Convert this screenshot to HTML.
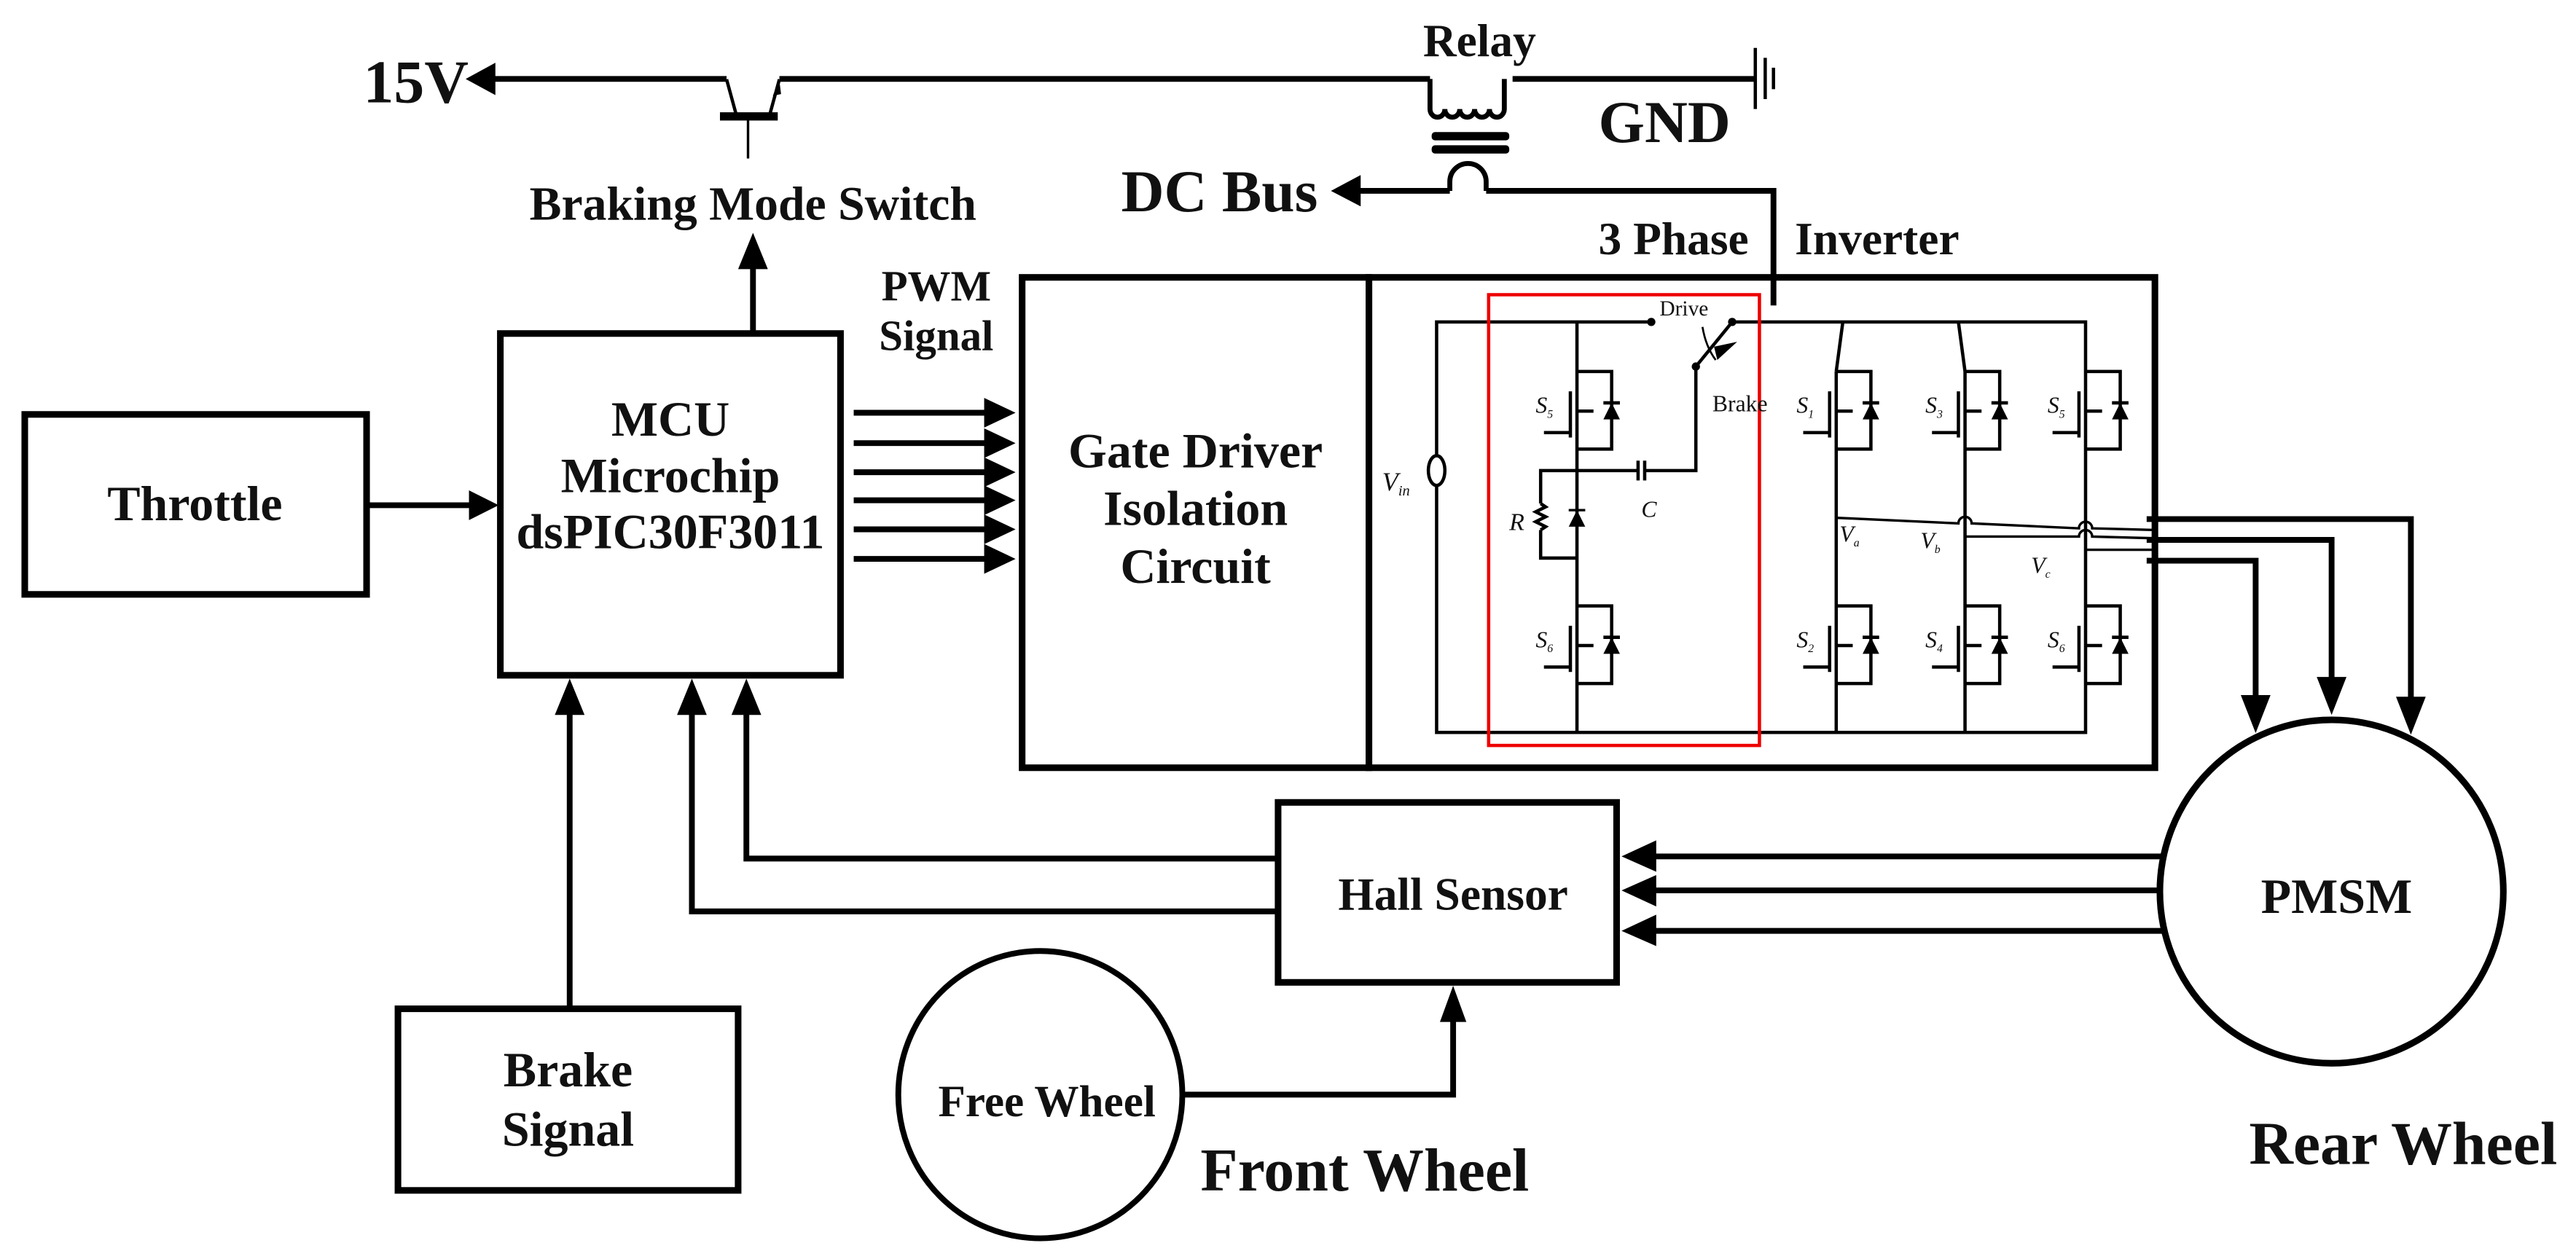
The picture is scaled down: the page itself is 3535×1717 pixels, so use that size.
<!DOCTYPE html>
<html><head><meta charset="utf-8"><style>
html,body{margin:0;padding:0;background:#fff;}
svg{display:block;}
text{font-family:"Liberation Serif",serif;font-weight:bold;fill:#111;}
.it{font-style:italic;font-weight:normal;}
.n{font-weight:normal;}
</style></head><body>
<svg width="3535" height="1717" viewBox="0 0 1560 757.7" xmlns="http://www.w3.org/2000/svg">
<g fill="none" stroke="#000" stroke-width="4">
<rect x="15" y="251" width="207" height="109"/>
<rect x="303" y="202" width="206" height="207"/>
<rect x="619" y="168" width="210" height="297"/>
<rect x="829" y="168" width="476" height="297"/>
<rect x="774" y="486" width="205" height="109"/>
<rect x="241" y="611" width="206" height="110"/>
<circle cx="1412" cy="540" r="104"/>
<ellipse cx="630" cy="663" rx="86" ry="87" stroke-width="3.5"/>
</g>
<g fill="none" stroke="#000" stroke-width="3.5">
<line x1="222" y1="306" x2="290" y2="306"/>
<line x1="517" y1="250" x2="600" y2="250"/>
<line x1="517" y1="268.4" x2="600" y2="268.4"/>
<line x1="517" y1="286" x2="600" y2="286"/>
<line x1="517" y1="303" x2="600" y2="303"/>
<line x1="517" y1="320.6" x2="600" y2="320.6"/>
<line x1="517" y1="338.5" x2="600" y2="338.5"/>
<line x1="456" y1="202" x2="456" y2="160"/>
<polyline points="774,520 452,520 452,425"/>
<polyline points="774,552 419,552 419,425"/>
<line x1="345" y1="611" x2="345" y2="425"/>
<line x1="1310" y1="518.7" x2="1000" y2="518.7"/>
<line x1="1308" y1="539.3" x2="1000" y2="539.3"/>
<line x1="1310" y1="563.8" x2="1000" y2="563.8"/>
<polyline points="716,663 880,663 880,612"/>
<polyline points="1300,314.4 1460,314.4 1460,425"/>
<polyline points="1300,327 1412,327 1412,412"/>
<polyline points="1300,339.6 1366,339.6 1366,424"/>
<line x1="298" y1="47.8" x2="440" y2="47.8"/>
<line x1="472" y1="47.8" x2="866" y2="47.8"/>
<line x1="916" y1="47.8" x2="1062" y2="47.8"/>
<line x1="820" y1="115.6" x2="878" y2="115.6"/>
<polyline points="900,115.6 1074,115.6 1074,185"/>
</g>
<g fill="#000">
<polygon points="302,306 284,297 284,315"/>
<polygon points="615,250 596,241 596,259"/>
<polygon points="615,268.4 596,259.4 596,277.4"/>
<polygon points="615,286 596,277 596,295"/>
<polygon points="615,303 596,294 596,312"/>
<polygon points="615,320.6 596,311.6 596,329.6"/>
<polygon points="615,338.5 596,329.5 596,347.5"/>
<polygon points="456,141 447,163 465,163"/>
<polygon points="345,411 336,433 354,433"/>
<polygon points="419,411 410,433 428,433"/>
<polygon points="452,411 443,433 461,433"/>
<polygon points="982,518.7 1003,509 1003,528"/>
<polygon points="982,539.3 1003,530 1003,549"/>
<polygon points="982,563.8 1003,554 1003,573"/>
<polygon points="880,597 872,619 888,619"/>
<polygon points="1366,444 1357,421 1375,421"/>
<polygon points="1412,433 1403,410 1421,410"/>
<polygon points="1460,445 1451,422 1469,422"/>
<polygon points="282,47.8 300,38 300,57.6"/>
<polygon points="806,115.6 824,106 824,125"/>
</g>
<g stroke="#000" fill="none" stroke-width="2">
<line x1="440" y1="48" x2="446" y2="70"/>
<line x1="472" y1="48" x2="466" y2="70"/>
<line x1="453" y1="72" x2="453" y2="96" stroke-width="1.5"/>
</g>
<rect x="436" y="68" width="35" height="5" fill="#000"/>
<polygon points="472,49 468,58 473,57" fill="#000"/>
<g stroke="#000" fill="none" stroke-width="3">
<path d="M866,47.8 V66 a4.5,5 0 0 0 9,0 a4.5,5 0 0 0 9,0 a4.5,5 0 0 0 9,0 a4.5,5 0 0 0 9,0 a4.5,5 0 0 0 9,0 V47.8"/>
<path d="M878,115.6 V110 a11,11 0 0 1 22,0 V115.6"/>
</g>
<rect x="867" y="80" width="47" height="5" rx="2" fill="#000"/>
<rect x="867" y="88" width="47" height="5" rx="2" fill="#000"/>
<g stroke="#000" stroke-width="2">
<line x1="1063" y1="29" x2="1063" y2="66"/>
<line x1="1069" y1="35" x2="1069" y2="60"/>
<line x1="1074" y1="41" x2="1074" y2="54"/>
</g>
<g stroke="#000" fill="none" stroke-width="2">
<polyline points="1000,195 870,195 870,443.6 1263,443.6 1263,195 1049,195"/>
<line x1="955" y1="195" x2="955" y2="443.6"/>
<line x1="1116" y1="195" x2="1112" y2="225"/>
<line x1="1112" y1="225" x2="1112" y2="443.6"/>
<line x1="1186" y1="195" x2="1190" y2="225"/>
<line x1="1190" y1="225" x2="1190" y2="443.6"/>
<polyline points="955,285 933,285 933,305"/>
<path d="M933,305 l3,2 l-6,3 l6,3 l-6,3 l6,3 l-3,2"/>
<polyline points="933,321 933,338 955,338"/>
<polyline points="955,285 992,285"/>
<line x1="992" y1="279" x2="992" y2="291"/>
<line x1="996" y1="279" x2="996" y2="291"/>
<polyline points="996,285 1027,285 1027,222"/>
<line x1="1027" y1="222" x2="1049" y2="195"/>
<path d="M1031,198 q2,12 8,20" stroke-width="1.2"/>
<ellipse cx="870" cy="285" rx="5" ry="9" fill="#fff"/>
<path d="M1112,313.6 L1186,317 a4,4 0 0 1 8,0 L1259,320 a4,4 0 0 1 8,0 L1305,321" stroke-width="1.5"/>
<path d="M1190,325 L1259,325 a4,4 0 0 1 8,0 L1305,326" stroke-width="1.5"/>
<line x1="1263" y1="333" x2="1305" y2="333" stroke-width="1.5"/>
</g>
<polygon points="1040,218 1052,207 1038,210" fill="#000"/>
<circle cx="1000" cy="195" r="2.5" fill="#000"/>
<circle cx="1049" cy="195" r="2.5" fill="#000"/>
<circle cx="1027" cy="222" r="2.5" fill="#000"/>
<polygon points="955,309 950,319 960,319" fill="#000"/>
<line x1="950" y1="309" x2="960" y2="309" stroke="#000" stroke-width="1.5"/>
<g stroke="#000" fill="none" stroke-width="2">
<g transform="translate(955,225)"><path d="M0,0 H21 V47 H0"/><line x1="-4" y1="12" x2="-4" y2="40"/><line x1="-20" y1="37" x2="-4" y2="37"/><line x1="0" y1="24" x2="10" y2="24"/><line x1="16" y1="19" x2="26" y2="19"/></g>
<g transform="translate(955,367)"><path d="M0,0 H21 V47 H0"/><line x1="-4" y1="12" x2="-4" y2="40"/><line x1="-20" y1="37" x2="-4" y2="37"/><line x1="0" y1="24" x2="10" y2="24"/><line x1="16" y1="19" x2="26" y2="19"/></g>
<g transform="translate(1112,225)"><path d="M0,0 H21 V47 H0"/><line x1="-4" y1="12" x2="-4" y2="40"/><line x1="-20" y1="37" x2="-4" y2="37"/><line x1="0" y1="24" x2="10" y2="24"/><line x1="16" y1="19" x2="26" y2="19"/></g>
<g transform="translate(1112,367)"><path d="M0,0 H21 V47 H0"/><line x1="-4" y1="12" x2="-4" y2="40"/><line x1="-20" y1="37" x2="-4" y2="37"/><line x1="0" y1="24" x2="10" y2="24"/><line x1="16" y1="19" x2="26" y2="19"/></g>
<g transform="translate(1190,225)"><path d="M0,0 H21 V47 H0"/><line x1="-4" y1="12" x2="-4" y2="40"/><line x1="-20" y1="37" x2="-4" y2="37"/><line x1="0" y1="24" x2="10" y2="24"/><line x1="16" y1="19" x2="26" y2="19"/></g>
<g transform="translate(1190,367)"><path d="M0,0 H21 V47 H0"/><line x1="-4" y1="12" x2="-4" y2="40"/><line x1="-20" y1="37" x2="-4" y2="37"/><line x1="0" y1="24" x2="10" y2="24"/><line x1="16" y1="19" x2="26" y2="19"/></g>
<g transform="translate(1263,225)"><path d="M0,0 H21 V47 H0"/><line x1="-4" y1="12" x2="-4" y2="40"/><line x1="-20" y1="37" x2="-4" y2="37"/><line x1="0" y1="24" x2="10" y2="24"/><line x1="16" y1="19" x2="26" y2="19"/></g>
<g transform="translate(1263,367)"><path d="M0,0 H21 V47 H0"/><line x1="-4" y1="12" x2="-4" y2="40"/><line x1="-20" y1="37" x2="-4" y2="37"/><line x1="0" y1="24" x2="10" y2="24"/><line x1="16" y1="19" x2="26" y2="19"/></g>
</g>
<g fill="#000">
<polygon points="976,244 971,254 981,254"/><polygon points="976,386 971,396 981,396"/>
<polygon points="1133,244 1128,254 1138,254"/><polygon points="1133,386 1128,396 1138,396"/>
<polygon points="1211,244 1206,254 1216,254"/><polygon points="1211,386 1206,396 1216,396"/>
<polygon points="1284,244 1279,254 1289,254"/><polygon points="1284,386 1279,396 1289,396"/>
</g>
<rect x="901.5" y="178.5" width="164" height="273" fill="none" stroke="#e00" stroke-width="2"/>
<text class="n" x="1005" y="191" font-size="13">Drive</text>
<text class="n" x="1037" y="249" font-size="14">Brake</text>
<text class="it" x="837" y="297" font-size="16">V<tspan font-size="9" dy="3">in</tspan></text>
<text class="it" x="914" y="321" font-size="15">R</text>
<text class="it" x="994" y="313" font-size="14">C</text>
<text class="it" x="930" y="250" font-size="14">S<tspan font-size="7" dy="3">5</tspan></text>
<text class="it" x="930" y="392" font-size="14">S<tspan font-size="7" dy="3">6</tspan></text>
<text class="it" x="1088" y="250" font-size="14">S<tspan font-size="7" dy="3">1</tspan></text>
<text class="it" x="1166" y="250" font-size="14">S<tspan font-size="7" dy="3">3</tspan></text>
<text class="it" x="1240" y="250" font-size="14">S<tspan font-size="7" dy="3">5</tspan></text>
<text class="it" x="1088" y="392" font-size="14">S<tspan font-size="7" dy="3">2</tspan></text>
<text class="it" x="1166" y="392" font-size="14">S<tspan font-size="7" dy="3">4</tspan></text>
<text class="it" x="1240" y="392" font-size="14">S<tspan font-size="7" dy="3">6</tspan></text>
<text class="it" x="1114" y="328" font-size="14">V<tspan font-size="7" dy="3">a</tspan></text>
<text class="it" x="1163" y="332" font-size="14">V<tspan font-size="7" dy="3">b</tspan></text>
<text class="it" x="1230" y="347" font-size="14">V<tspan font-size="7" dy="3">c</tspan></text>
<g text-anchor="middle" font-size="30">
<text x="118" y="315">Throttle</text>
<text x="406" y="264">MCU</text>
<text x="406" y="298">Microchip</text>
<text x="406" y="332">dsPIC30F3011</text>
<text x="724" y="283">Gate Driver</text>
<text x="724" y="318">Isolation</text>
<text x="724" y="353">Circuit</text>
<text x="344" y="658">Brake</text>
<text x="344" y="694">Signal</text>
<text x="880" y="551" font-size="28">Hall Sensor</text>
<text x="1415" y="553">PMSM</text>
<text x="634" y="676" font-size="27">Free Wheel</text>
<text x="456" y="133" font-size="29">Braking Mode Switch</text>
<text x="567" y="182" font-size="26">PWM</text>
<text x="567" y="212" font-size="26">Signal</text>
<text x="896" y="34" font-size="28">Relay</text>
</g>
<text x="220" y="62" font-size="37">15V</text>
<text x="968" y="86" font-size="36">GND</text>
<text x="679" y="128" font-size="36">DC Bus</text>
<text x="968" y="154" font-size="28">3 Phase</text>
<text x="1087" y="154" font-size="28">Inverter</text>
<text x="727" y="721" font-size="37">Front Wheel</text>
<text x="1362" y="705" font-size="37">Rear Wheel</text>
</svg>
</body></html>
